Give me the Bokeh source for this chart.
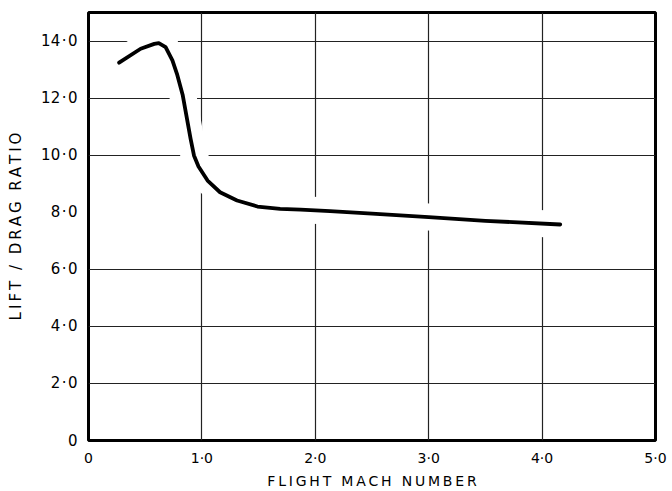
from bokeh.plotting import figure
from bokeh.models import FixedTicker, Range1d
from bokeh.embed import file_html
from bokeh.resources import INLINE

# Data
mach = [0.27, 0.46, 0.58, 0.62, 0.68, 0.74, 0.78, 0.83, 0.865, 0.90, 0.93, 0.97,
        1.05, 1.16, 1.31, 1.49, 1.69, 1.87, 2.13, 2.50, 3.00, 3.50, 4.16]
ld_ratio = [13.24, 13.73, 13.90, 13.93, 13.79, 13.32, 12.85, 12.12, 11.35, 10.58,
            9.99, 9.60, 9.11, 8.70, 8.41, 8.20, 8.12, 8.09, 8.04, 7.95, 7.83,
            7.70, 7.57]

x_ticks = [0, 1, 2, 3, 4, 5]
x_tick_labels = ["0", "1·0", "2·0", "3·0", "4·0", "5·0"]
y_ticks = [0, 2, 4, 6, 8, 10, 12, 14]
y_tick_labels = ["0", "2·0", "4·0", "6·0", "8·0", "10·0", "12·0", "14·0"]
x_grid = [1, 2, 3, 4]
y_grid = [2, 4, 6, 10, 12, 14]

x_title = "FLIGHT MACH NUMBER"
y_title = "LIFT / DRAG RATIO"

TS = "\u2009"
HS = "\u200a"


def spaced_title(s):
    return TS.join(list(s))


FONT = "DejaVu Sans"

p = figure(width=672, height=491, output_backend="svg", toolbar_location=None,
           x_range=Range1d(0, 5), y_range=Range1d(0, 15),
           min_border_left=88, min_border_right=17, min_border_top=12,
           min_border_bottom=51)

p.outline_line_color = "black"
p.outline_line_width = 3
p.background_fill_color = "white"
p.border_fill_color = "white"

for ax in (p.xaxis[0], p.yaxis[0]):
    ax.axis_line_color = None
    ax.major_tick_line_color = None
    ax.minor_tick_line_color = None
    ax.major_tick_out = 0
    ax.major_tick_in = 0
    ax.major_label_text_font = FONT
    ax.major_label_text_color = "black"
    ax.axis_label_text_font = FONT
    ax.axis_label_text_font_style = "normal"
    ax.axis_label_text_color = "black"

p.xaxis.ticker = FixedTicker(ticks=x_ticks)
p.yaxis.ticker = FixedTicker(ticks=y_ticks)
p.xaxis.major_label_overrides = {t: l for t, l in zip(x_ticks, x_tick_labels)}
p.yaxis.major_label_overrides = {t: l.replace("·", HS + "·" + HS)
                                 for t, l in zip(y_ticks, y_tick_labels)}
p.xaxis.major_label_text_font_size = "14px"
p.yaxis.major_label_text_font_size = "15px"
p.xaxis.major_label_standoff = 9
p.yaxis.major_label_standoff = 11

p.xaxis.axis_label = spaced_title(x_title)
p.xaxis.axis_label_text_font_size = "14px"
p.xaxis.axis_label_standoff = 4
p.yaxis.axis_label = spaced_title(y_title)
p.yaxis.axis_label_text_font_size = "15px"
p.yaxis.axis_label_standoff = 13

p.xgrid.ticker = FixedTicker(ticks=x_grid)
p.ygrid.ticker = FixedTicker(ticks=y_grid)
p.grid.grid_line_color = "#222222"
p.grid.grid_line_width = 1.2

# white halo under the curve (gaps in grid lines)
p.line(mach, ld_ratio, line_color="white", line_width=27, line_cap="round",
       line_join="round")
p.line(mach, ld_ratio, line_color="black", line_width=3.8, line_cap="round",
       line_join="round")

open("out.html", "w").write(file_html(p, INLINE))
